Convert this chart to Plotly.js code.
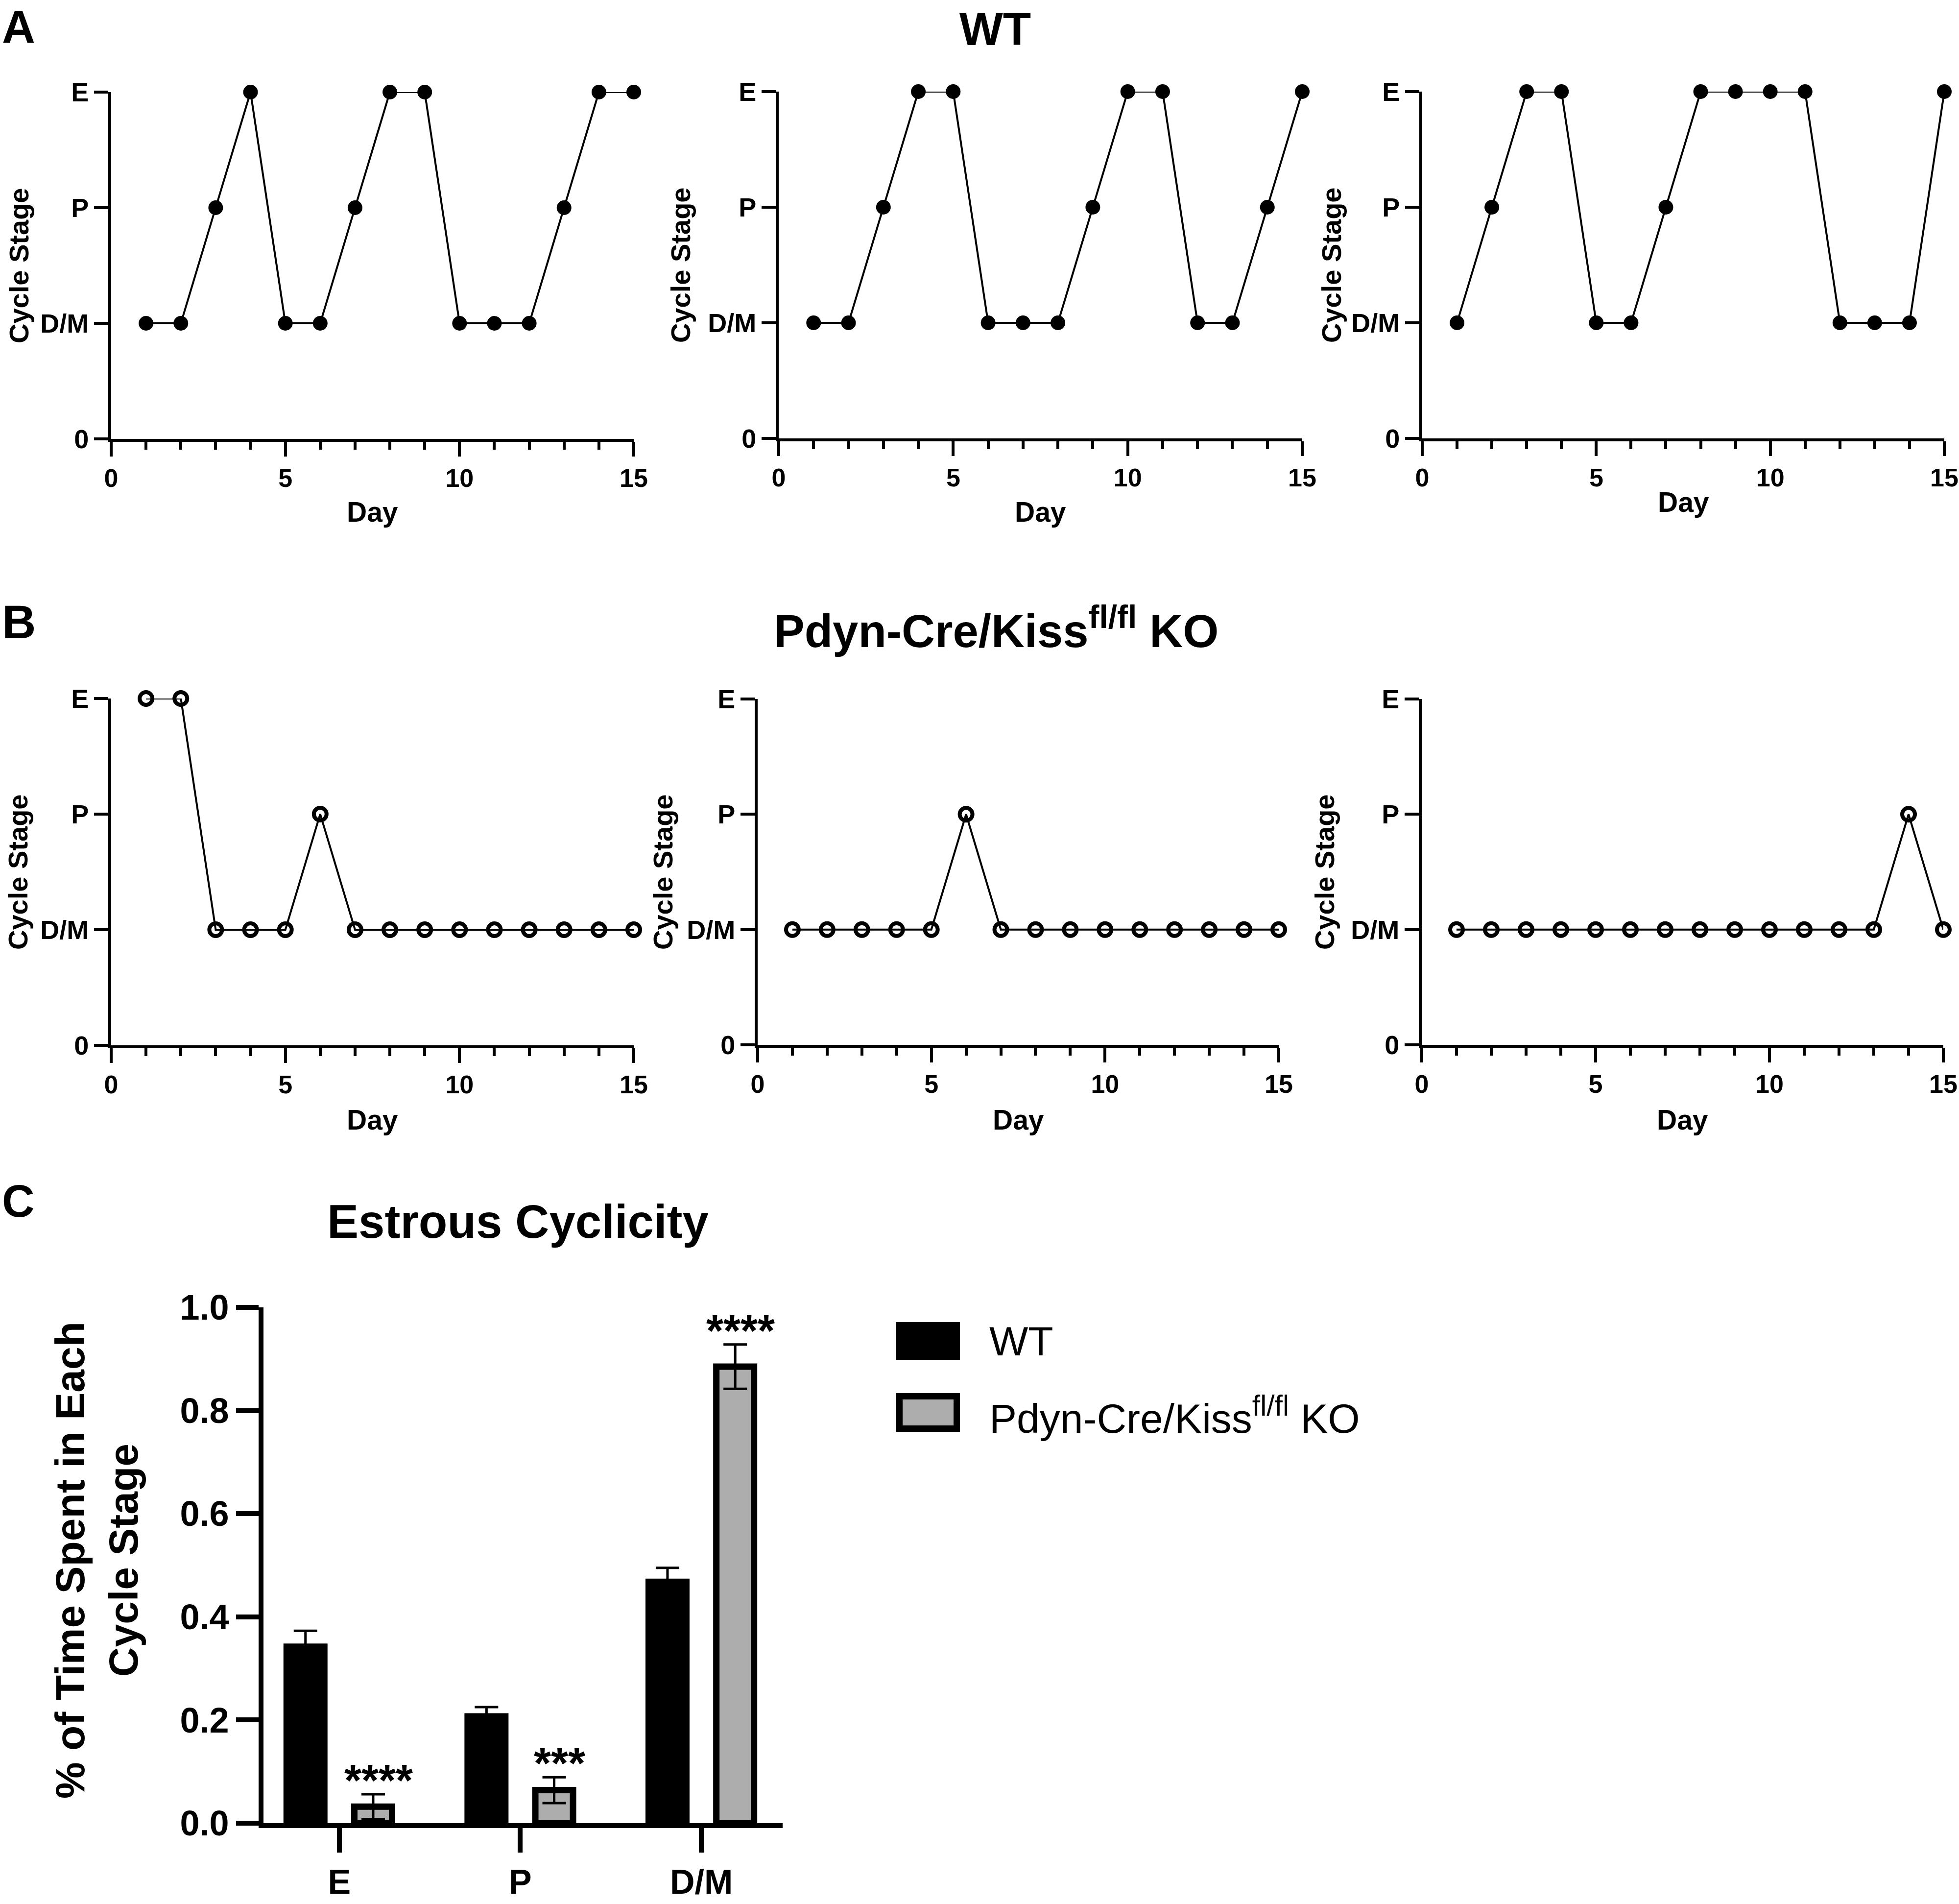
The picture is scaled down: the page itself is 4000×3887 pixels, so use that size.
<!DOCTYPE html>
<html>
<head>
<meta charset="utf-8">
<script src="https://cdn.plot.ly/plotly-3.0.1.min.js"></script>
<style>html,body{margin:0;padding:0;background:#fff;}</style>
</head>
<body>
<div id="chart" style="width:4000px;height:3887px;"></div>
<script>
// ---------------- DATA ----------------
const days = [1,2,3,4,5,6,7,8,9,10,11,12,13,14,15];
// stage code: 1 = D/M, 2 = P, 3 = E
const wtMouse1 = [1,1,2,3,1,1,2,3,3,1,1,1,2,3,3];
const wtMouse2 = [1,1,2,3,3,1,1,1,2,3,3,1,1,2,3];
const wtMouse3 = [1,2,3,3,1,1,2,3,3,3,3,1,1,1,3];
const koMouse1 = [3,3,1,1,1,2,1,1,1,1,1,1,1,1,1];
const koMouse2 = [1,1,1,1,1,2,1,1,1,1,1,1,1,1,1];
const koMouse3 = [1,1,1,1,1,1,1,1,1,1,1,1,1,2,1];
const stageTickVals = [0,1,2,3];
const stageTickText = ['0','D/M','P','E'];
const dayTickVals = [0,5,10,15];

const barCategories = ['E','P','D/M'];
const wtMean = [0.342, 0.207, 0.468];
const wtSEM  = [0.031, 0.018, 0.027];
const koMean = [0.032, 0.064, 0.885];
const koSEM  = [0.024, 0.025, 0.043];
const sigLabels = ['****','***','****'];
const barTickVals = [0,0.2,0.4,0.6,0.8,1.0];

const wtName = 'WT';
const koName = 'Pdyn-Cre/Kiss<sup>fl/fl</sup> KO';

// ---------------- LAYOUT HELPERS ----------------
const W = 4000, H = 3887;
const FONT = 'Liberation Sans, Arial, sans-serif';
const fx = p => p / W;
const fy = p => 1 - p / H;

const panels = [
  {data: wtMouse1, open:false, l:227,  r:1294, t:188,  b:896,  titleX:38,   dayY:1045},
  {data: wtMouse2, open:false, l:1590, r:2659, t:187,  b:895,  titleX:1389, dayY:1045},
  {data: wtMouse3, open:false, l:2904, r:3970, t:187,  b:895,  titleX:2718, dayY:1025},
  {data: koMouse1, open:true,  l:227,  r:1294, t:1426, b:2134, titleX:36,   dayY:2286},
  {data: koMouse2, open:true,  l:1547, r:2611, t:1427, b:2133, titleX:1353, dayY:2286},
  {data: koMouse3, open:true,  l:2903, r:3968, t:1427, b:2133, titleX:2704, dayY:2286}
];

const traces = [];
const layout = {
  width: W, height: H,
  margin: {l:0, r:0, t:0, b:0, pad:0},
  paper_bgcolor: '#fff', plot_bgcolor: 'rgba(0,0,0,0)',
  showlegend: false,
  font: {family: FONT, color: '#000'},
  annotations: [],
  shapes: []
};

function ann(text, x, y, size, opts) {
  layout.annotations.push(Object.assign({
    text: text, xref: 'paper', yref: 'paper', x: fx(x), y: fy(y),
    xanchor: 'center', yanchor: 'middle', showarrow: false,
    font: {family: FONT, size: size, color: '#000', weight: 'bold'}
  }, opts || {}));
}

panels.forEach((p, i) => {
  const n = i + 1;
  const xa = 'xaxis' + n, ya = 'yaxis' + n;
  traces.push({
    type: 'scatter', mode: 'lines+markers',
    x: days, y: p.data,
    xaxis: 'x' + n, yaxis: 'y' + n,
    cliponaxis: false,
    line: {color: '#000', width: 4},
    marker: p.open
      ? {symbol: 'circle-open', size: 26, color: '#000', line: {width: 8, color: '#000'}}
      : {symbol: 'circle', size: 30, color: '#000', line: {width: 0}},
    hoverinfo: 'x+y'
  });
  layout[xa] = {
    domain: [fx(p.l), fx(p.r)], anchor: 'y' + n,
    range: [0, 15], tickvals: dayTickVals, ticktext: dayTickVals.map(String),
    ticks: 'outside', ticklen: 30, tickwidth: 6, tickcolor: '#000',
    showline: true, linewidth: 6, linecolor: '#000',
    showgrid: false, zeroline: false, fixedrange: true,
    tickfont: {family: FONT, size: 52, color: '#000', weight: 'bold'},
    minor: {dtick: 1, tick0: 0, ticks: 'outside', ticklen: 16, tickwidth: 6, tickcolor: '#000', showgrid: false}
  };
  layout[ya] = {
    domain: [fy(p.b), fy(p.t)], anchor: 'x' + n,
    range: [0, 3], tickvals: stageTickVals, ticktext: stageTickText,
    ticks: 'outside', ticklen: 29, tickwidth: 6, tickcolor: '#000',
    showline: true, linewidth: 6, linecolor: '#000',
    showgrid: false, zeroline: false, fixedrange: true,
    tickfont: {family: FONT, size: 54, color: '#000', weight: 'bold'}
  };
  ann('Cycle Stage', p.titleX, (p.t + p.b) / 2, 56, {textangle: -90});
  ann('Day', (p.l + p.r) / 2, p.dayY, 57);
});

// ---------------- BAR CHART (panel C) ----------------
traces.push({
  type: 'bar', name: wtName, x: barCategories, y: wtMean,
  xaxis: 'x7', yaxis: 'y7',
  marker: {color: '#000', line: {color: '#000', width: 13}},
  error_y: {type: 'data', array: wtSEM, visible: true, color: '#000', thickness: 5, width: 24}
});
traces.push({
  type: 'bar', name: koName, x: barCategories, y: koMean,
  xaxis: 'x7', yaxis: 'y7',
  marker: {color: '#adadad', line: {color: '#000', width: 13}},
  error_y: {type: 'data', array: koSEM, visible: true, color: '#000', thickness: 5, width: 24}
});
layout.barmode = 'group';
layout.bargap = 0.252;
layout.bargroupgap = 0.443;
layout.xaxis7 = {
  domain: [fx(538), fx(1598)], anchor: 'y7', type: 'category',
  range: [-0.419, 2.449],
  ticks: 'outside', ticklen: 50, tickwidth: 10, tickcolor: '#000',
  showline: true, linewidth: 10, linecolor: '#000',
  showgrid: false, zeroline: false, fixedrange: true,
  tickfont: {family: FONT, size: 70, color: '#000', weight: 'bold'},
  ticklabelstandoff: 0
};
layout.yaxis7 = {
  domain: [fy(3722), fy(2669)], anchor: 'x7',
  range: [0, 1], tickvals: barTickVals, tickformat: '.1f',
  ticks: 'outside', ticklen: 46, tickwidth: 10, tickcolor: '#000',
  showline: true, linewidth: 10, linecolor: '#000',
  showgrid: false, zeroline: false, fixedrange: true,
  tickfont: {family: FONT, size: 72, color: '#000', weight: 'bold'}
};

// significance stars above KO bars (placed from the data)
barCategories.forEach((c, i) => {
  layout.annotations.push({
    text: sigLabels[i], xref: 'x7', yref: 'y7',
    x: c, y: koMean[i] + koSEM[i],
    xanchor: 'center', yanchor: 'bottom', xshift: 80, yshift: -24,
    showarrow: false,
    font: {family: FONT, size: 90, color: '#000', weight: 'bold'}
  });
});

// ---------------- TEXT ----------------
ann('A', 38, 56, 94);
ann('B', 38, 1269, 96);
ann('C', 37, 2452, 92);
ann('WT', 2032, 60, 94);
ann('Pdyn-Cre/Kiss<sup>fl/fl</sup> KO', 2034, 1281, 94);
ann('Estrous Cyclicity', 1057, 2493, 96);
ann('% of Time Spent in Each<br>Cycle Stage', 197, 3185, 84, {textangle: -90});

// ---------------- LEGEND (panel C) ----------------
layout.shapes.push({type:'rect', xref:'paper', yref:'paper',
  x0: fx(1830), x1: fx(1960), y0: fy(2776), y1: fy(2699),
  fillcolor:'#000', line:{width:0}});
layout.shapes.push({type:'rect', xref:'paper', yref:'paper',
  x0: fx(1836.5), x1: fx(1953.5), y0: fy(2916.5), y1: fy(2850.5),
  fillcolor:'#adadad', line:{width:13, color:'#000'}});
ann(wtName, 2018, 2738, 84, {xanchor:'left', font:{family:FONT, size:84, color:'#000'}});
ann(koName, 2018, 2890, 84, {xanchor:'left', font:{family:FONT, size:84, color:'#000'}});

Plotly.newPlot('chart', traces, layout, {staticPlot: true, displayModeBar: false});
</script>
</body>
</html>
